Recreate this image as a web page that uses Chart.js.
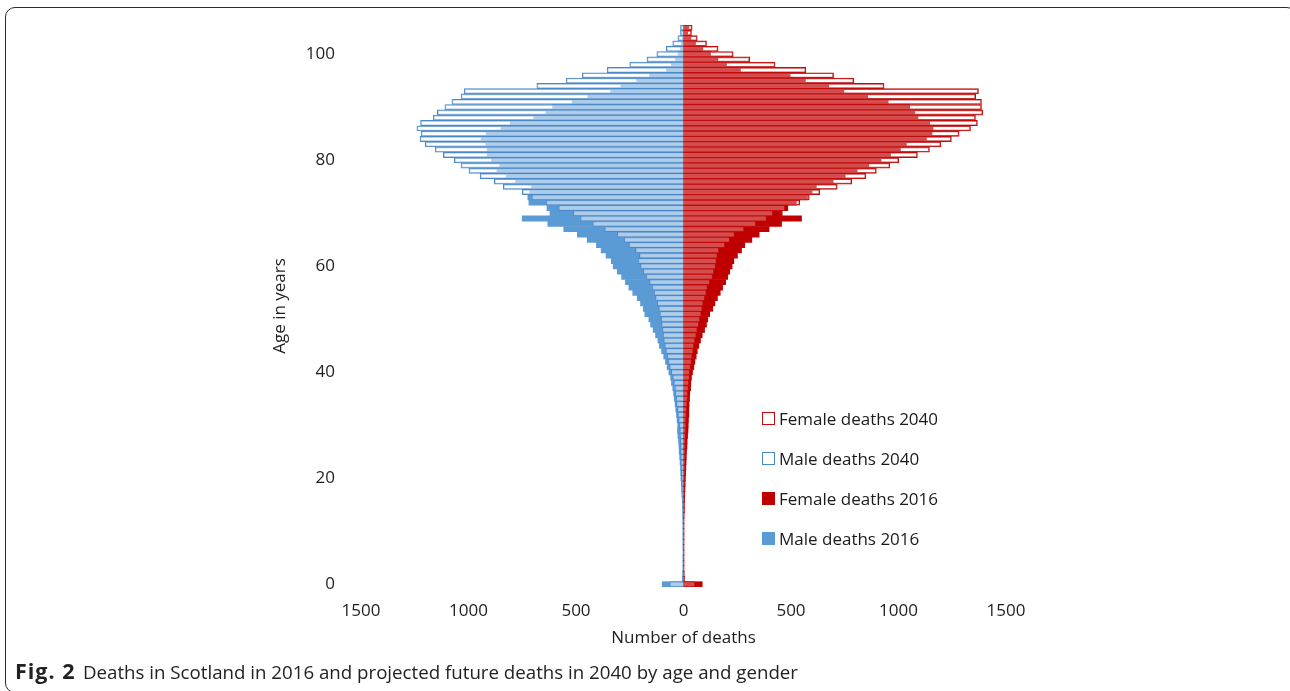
<!DOCTYPE html>
<html><head><meta charset="utf-8">
<script src="https://cdn.jsdelivr.net/npm/chart.js@4.4.0/dist/chart.umd.min.js"></script>
<style>
html,body{margin:0;padding:0;background:#fff;width:1290px;height:691px;overflow:hidden;font-family:'Open Sans',sans-serif;}
#frame{position:absolute;left:5px;top:7px;width:1292px;height:686px;border:1.5px solid #2b2b2b;border-radius:10px;box-sizing:border-box;pointer-events:none;}
canvas{position:absolute;left:0;top:0;}
.cap{position:absolute;top:659px;color:#222;white-space:nowrap;line-height:26px;}
#capB{left:15px;font-size:21.5px;font-weight:bold;letter-spacing:1px;top:658px;}
#capT{left:83px;font-size:18.7px;}
#legend{position:absolute;left:762px;top:0;}
.item{position:absolute;left:0;height:24px;display:flex;align-items:center;white-space:nowrap;font-size:17px;color:#1a1a1a;}
.sw{width:13px;height:13px;box-sizing:border-box;margin-right:4px;}
</style></head><body>
<canvas id="c" width="1290" height="691"></canvas>
<div id="legend"></div>
<div class="cap" id="capB">Fig. 2</div>
<div class="cap" id="capT">Deaths in Scotland in 2016 and projected future deaths in 2040 by age and gender</div>
<div id="frame"></div>
<script>
const ages = [0,1,2,3,4,5,6,7,8,9,10,11,12,13,14,15,16,17,18,19,20,21,22,23,24,25,26,27,28,29,30,31,32,33,34,35,36,37,38,39,40,41,42,43,44,45,46,47,48,49,50,51,52,53,54,55,56,57,58,59,60,61,62,63,64,65,66,67,68,69,70,71,72,73,74,75,76,77,78,79,80,81,82,83,84,85,86,87,88,89,90,91,92,93,94,95,96,97,98,99,100,101,102,103,104,105];

const male2016 = [99,6,4,3,3,3,2,3,3,3,3,3,3,4,4,5,6,8,9,10,12,13,14,16,18,20,21,23,26,28,27,30,33,36,39,43,46,50,56,60,68,76,84,92,102,112,119,130,141,153,161,180,187,200,215,236,254,270,288,308,327,336,360,383,405,448,494,557,631,750,621,635,719,724,716,707,781,824,868,855,893,913,913,919,941,918,849,806,697,639,609,518,445,339,291,218,158,79,56,37,25,14,10,6,4,3];

const female2016 = [87,4,3,2,2,2,2,2,2,2,2,2,2,3,4,4,5,6,7,8,9,10,11,12,13,14,16,17,19,21,22,23,25,25,26,28,29,33,34,37,42,48,53,59,64,71,79,87,98,107,113,122,136,146,158,171,182,196,206,215,226,234,251,270,285,318,352,398,456,549,459,485,525,577,598,618,696,752,808,862,919,963,1009,1037,1130,1156,1161,1145,1091,1076,1052,952,857,746,676,567,496,265,200,160,126,90,56,35,20,25];

const male2040 = [64,4,3,2,2,2,2,2,2,2,2,2,3,3,3,4,5,6,7,8,9,10,11,12,13,14,14,15,16,17,20,23,26,29,33,34,39,40,45,50,57,64,71,76,82,87,92,95,98,102,104,110,115,122,130,137,146,158,174,187,200,211,205,223,253,276,308,366,422,479,513,580,639,705,750,838,880,946,998,1035,1066,1117,1155,1201,1226,1221,1240,1223,1164,1145,1110,1077,1035,1020,682,546,471,355,250,170,124,80,50,26,14,14];

const female2040 = [53,3,2,2,2,2,2,2,2,2,2,2,2,2,3,3,3,4,4,5,5,6,6,7,7,8,8,9,10,11,12,12,14,15,17,19,20,23,25,28,29,33,37,40,45,48,53,59,64,71,76,82,87,91,99,106,111,122,135,141,149,153,157,164,192,214,237,281,336,386,415,471,541,585,634,715,783,848,897,960,1001,1088,1144,1197,1246,1282,1335,1367,1358,1392,1386,1386,1359,1372,933,792,698,569,426,308,231,161,107,64,37,40];

const xTicks = [-1500,-1000,-500,0,500,1000,1500];
const yTicks = [0,20,40,60,80,100];

function toPoints(vals, sign){ return vals.map((v,i)=>({x: sign*v, y: ages[i]})); }

const FONT = {family:"'Open Sans', sans-serif", size:17};
const TXT = '#1e1e1e';

const chart = new Chart(document.getElementById('c'), {
  type:'bar',
  data:{datasets:[
    {label:'Female deaths 2040', data:toPoints(female2040,1), backgroundColor:'rgba(255,255,255,0.3)', borderColor:'#c40a0a', borderWidth:1, legendFill:'#ffffff'},
    {label:'Male deaths 2040', data:toPoints(male2040,-1), backgroundColor:'rgba(255,255,255,0.5)', borderColor:'#4a89c9', borderWidth:1, legendFill:'#ffffff'},
    {label:'Female deaths 2016', data:toPoints(female2016,1), backgroundColor:'#c00000', borderWidth:0, legendFill:'#c00000'},
    {label:'Male deaths 2016', data:toPoints(male2016,-1), backgroundColor:'#5b9bd5', borderWidth:0, legendFill:'#5b9bd5'}
  ]},
  options:{
    indexAxis:'y', responsive:false, animation:false, devicePixelRatio:1,
    datasets:{bar:{grouped:false, categoryPercentage:1, barPercentage:1}},
    layout:{padding:{left:266, right:284, top:25, bottom:39}},
    plugins:{legend:{display:false}, tooltip:{enabled:false}},
    scales:{
      x:{type:'linear', min:-1500, max:1500, offset:false,
        grid:{display:false, drawTicks:false}, border:{display:false},
        afterBuildTicks:s=>{s.ticks = xTicks.map(v=>({value:v}));},
        ticks:{padding:14, font:FONT, color:TXT, callback:v=>String(Math.abs(v))},
        title:{display:true, text:'Number of deaths', font:FONT, color:TXT, padding:{top:0,bottom:4}},
        afterFit:s=>{s.height=65;}
      },
      y:{type:'linear', min:-0.5, max:105.5, offset:false,
        grid:{display:false, drawTicks:false, offset:false}, border:{display:false},
        afterBuildTicks:s=>{s.ticks = yTicks.map(v=>({value:v}));},
        ticks:{padding:26, font:FONT, color:TXT, callback:v=>String(v)},
        title:{display:true, text:'Age in years', font:FONT, color:TXT, padding:{top:4,bottom:0}},
        afterFit:s=>{s.width=95; s.paddingTop=0; s.paddingBottom=0;}
      }
    }
  }
});

const legendTops = [406,446,486,526];
const leg = document.getElementById('legend');
chart.data.datasets.forEach((ds,i)=>{
  const it = document.createElement('div');
  it.className='item'; it.style.top = legendTops[i]+'px';
  const sw = document.createElement('span'); sw.className='sw';
  sw.style.background = ds.legendFill;
  sw.style.border = '1.5px solid ' + (ds.borderWidth ? ds.borderColor : ds.backgroundColor);
  const t = document.createElement('span'); t.textContent = ds.label;
  it.appendChild(sw); it.appendChild(t); leg.appendChild(it);
});
</script>
</body></html>
